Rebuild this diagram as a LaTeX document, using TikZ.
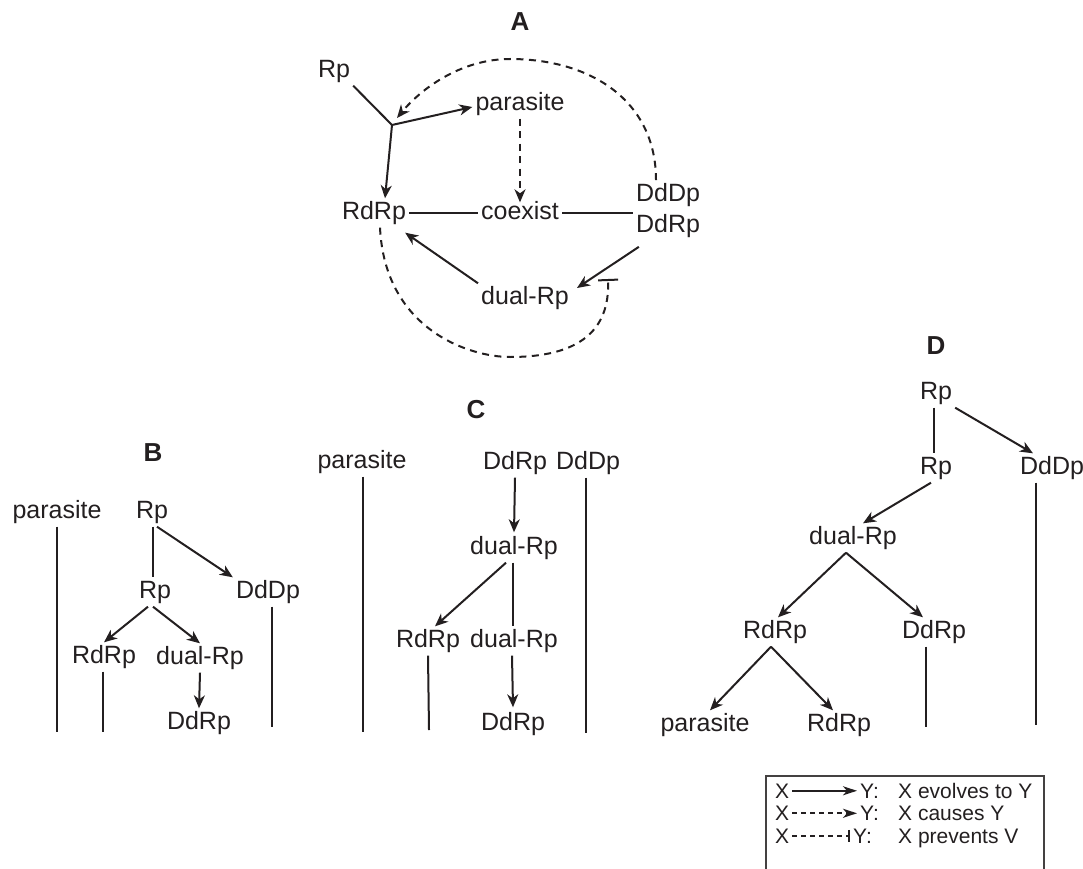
\documentclass[tikz,border=0pt]{standalone}
\usepackage{fontspec}
\setmainfont{Liberation Sans}
\usetikzlibrary{arrows.meta}
\definecolor{ink}{HTML}{231F20}
\newcommand\mfont{\fontsize{25}{31}\selectfont}
\newcommand\tfont{\fontsize{26}{31}\selectfont\bfseries}
\newcommand\lfont{\fontsize{21}{24}\selectfont}
\begin{document}
\begin{tikzpicture}[x=1pt,y=-1pt,
  every node/.style={text=ink},
  lbl/.style={font=\mfont, inner sep=3pt, text height=18pt, text depth=5pt},
  ttl/.style={font=\tfont, inner sep=0pt},
  ln/.style={line width=2pt, draw=ink},
  evo/.style={ln, -{Stealth[length=13pt,width=11pt,inset=4pt]}},
  cause/.style={ln, dash pattern=on 7pt off 5.5pt, -{Stealth[length=13pt,width=11pt,inset=4pt]}},
  prevent/.style={ln, dash pattern=on 7pt off 5.5pt, -{Bar[width=20pt]}},
  leg/.style={font=\lfont, inner sep=3pt},
  legevo/.style={line width=1.8pt, draw=ink, -{Stealth[length=14pt,width=9pt,inset=4pt]}},
  legcause/.style={line width=1.8pt, draw=ink, dash pattern=on 5pt off 4pt, -{Stealth[length=14pt,width=9pt,inset=4pt]}},
  legprev/.style={line width=1.8pt, draw=ink, dash pattern=on 5pt off 4pt, -{Bar[width=12pt]}}
]
\useasboundingbox (0,0) rectangle (1083,869);

% ---------------- Panel A ----------------
\node[ttl] (tA) at (520,22) {A};
\node[lbl] (aRp) at (334,71) {Rp};
\coordinate (J) at (392,125);
\node[lbl] (aPar) at (520,104) {parasite};
\node[lbl] (aRdRp) at (374,213) {RdRp};
\node[lbl] (aCo) at (520,213) {coexist};
\node[font=\mfont, inner sep=3pt, align=center] (aDD) at (668,210.5) {DdDp\\DdRp};
\node[lbl] (aDual) at (525,298) {dual-Rp};
\coordinate (bar) at (608,279);

\draw[ln] (aRp.south east) -- (J);
\draw[evo] (J) -- ([yshift=-3pt]aPar.west);
\draw[evo] (J) -- ([xshift=11pt]aRdRp.north);
\draw[cause] (aPar.south) -- ([yshift=-4pt]aCo.north);
\draw[ln] (aRdRp.east) -- (aCo.west);
\draw[ln] (aCo.east) -- (aCo.east -| aDD.west);
\draw[evo] (aDual.north west) -- ([shift={(-4,5)}]aRdRp.south east);
\draw[evo] ([shift={(6,6)}]aDD.south west) -- ([shift={(5,-10)}]aDual.east);
\draw[cause] ([xshift=-12pt]aDD.north) .. controls (656,100) and (590,59) .. (510,59)
   .. controls (460,59) and (420,90) .. ([shift={(5,-7)}]J);
\draw[prevent] ([xshift=6pt]aRdRp.south) .. controls (385,330) and (470,357) .. (510,357)
   .. controls (580,357) and (610,330) .. (bar);

% ---------------- Panel B ----------------
\node[ttl] (tB) at (153,453) {B};
\node[lbl] (bPar) at (57,512) {parasite};
\node[lbl] (bRp) at (152,512) {Rp};
\node[lbl] (bRp2) at (155,592) {Rp};
\node[lbl] (bDdDp) at (268,592) {DdDp};
\node[lbl] (bRdRp) at (104,657) {RdRp};
\node[lbl] (bDual) at (200,658) {dual-Rp};
\node[lbl] (bDdRp) at (199,723) {DdRp};
\coordinate (bParE) at (57,732);
\coordinate (bRdRpE) at (103,732);
\coordinate (bDdDpE) at (272,727);

\draw[ln] (bPar.south) -- (bParE);
\draw[ln] ([xshift=1pt]bRp.south) -- ([xshift=1pt]bRp.south |- bRp2.north);
\draw[evo] ([xshift=5pt]bRp.south) -- (bDdDp.north west);
\draw[evo] ([xshift=-7pt]bRp2.south) -- (bRdRp.north);
\draw[evo] ([xshift=-2pt]bRp2.south) -- (bDual.north);
\draw[ln] ([xshift=-1pt]bRdRp.south) -- (bRdRpE);
\draw[evo] (bDual.south) -- (bDdRp.north);
\draw[ln] ([xshift=4pt]bDdDp.south) -- (bDdDpE);

% ---------------- Panel C ----------------
\node[ttl] (tC) at (476,410) {C};
\node[lbl] (cPar) at (362,462) {parasite};
\node[lbl] (cDdRp) at (515,463) {DdRp};
\node[lbl] (cDdDp) at (588,463) {DdDp};
\node[lbl] (cDual) at (514,548) {dual-Rp};
\node[lbl] (cRdRp) at (428,641) {RdRp};
\node[lbl] (cDual2) at (514,641) {dual-Rp};
\node[lbl] (cDdRp2) at (513,724) {DdRp};
\coordinate (cParE) at (363,732);
\coordinate (cDdDpE) at (586,733);
\coordinate (cRdRpE) at (429,730);

\draw[ln] ([xshift=1pt]cPar.south) -- (cParE);
\draw[ln] ([xshift=-2pt]cDdDp.south) -- (cDdDpE);
\draw[evo] (cDdRp.south) -- ([yshift=1pt]cDual.north);
\draw[evo] ([xshift=-8pt]cDual.south) -- ([xshift=7pt]cRdRp.north);
\draw[ln] ([xshift=-1pt]cDual.south) -- ([xshift=-1pt]cDual2.north);
\draw[ln] (cRdRp.south) -- (cRdRpE);
\draw[evo] ([xshift=-2pt]cDual2.south) -- ([yshift=2pt]cDdRp2.north);

% ---------------- Panel D ----------------
\node[ttl] (tD) at (936,346) {D};
\node[lbl] (dRp) at (936,393) {Rp};
\node[lbl] (dRp2) at (936,468) {Rp};
\node[lbl] (dDdDp) at (1052,468) {DdDp};
\node[lbl] (dDual) at (853,538) {dual-Rp};
\node[lbl] (dRdRp) at (775,632) {RdRp};
\node[lbl] (dDdRp) at (934,632) {DdRp};
\node[lbl] (dPar) at (705,725) {parasite};
\node[lbl] (dRdRp2) at (839,725) {RdRp};
\coordinate (dDdDpE) at (1036,725);
\coordinate (dDdRpE) at (926,727);

\draw[ln] ([xshift=-2pt]dRp.south) -- ([xshift=-2pt]dRp2.north);
\draw[evo] (dRp.south east) -- ([xshift=-19pt]dDdDp.north);
\draw[ln] ([xshift=-16pt]dDdDp.south) -- (dDdDpE);
\draw[evo] ([xshift=-5pt]dRp2.south) -- ([xshift=10pt]dDual.north);
\draw[evo] ([xshift=-7pt]dDual.south) -- ([xshift=3pt]dRdRp.north);
\draw[evo] ([xshift=-7pt]dDual.south) -- ([xshift=-11pt]dDdRp.north);
\draw[ln] ([xshift=-8pt]dDdRp.south) -- (dDdRpE);
\draw[evo] ([xshift=-4pt]dRdRp.south) -- ([xshift=5pt]dPar.north);
\draw[evo] ([xshift=-4pt]dRdRp.south) -- ([xshift=-6pt]dRdRp2.north);

% ---------------- Legend ----------------
\draw[line width=1.4pt, draw=ink!85] (766,869) -- (766,776) -- (1044,776) -- (1044,869);
\node[leg, anchor=base] (lX1) at (782,798) {X};
\node[leg, anchor=base west] (lY1) at (857,798) {Y:};
\node[leg, anchor=base west] (lT1) at (895,798) {X evolves to Y};
\node[leg, anchor=base] (lX2) at (782,820.5) {X};
\node[leg, anchor=base west] (lY2) at (857,820.5) {Y:};
\node[leg, anchor=base west] (lT2) at (895,820.5) {X causes Y};
\node[leg, anchor=base] (lX3) at (782,843) {X};
\node[leg, anchor=base west] (lY3) at (850,843) {Y:};
\node[leg, anchor=base west] (lT3) at (895,843) {X prevents V};
\draw[legevo] (lX1.east) -- (lY1.west);
\draw[legcause] (lX2.east) -- (lY2.west);
\draw[legprev] (lX3.east) -- (lY3.west);
\end{tikzpicture}
\end{document}
